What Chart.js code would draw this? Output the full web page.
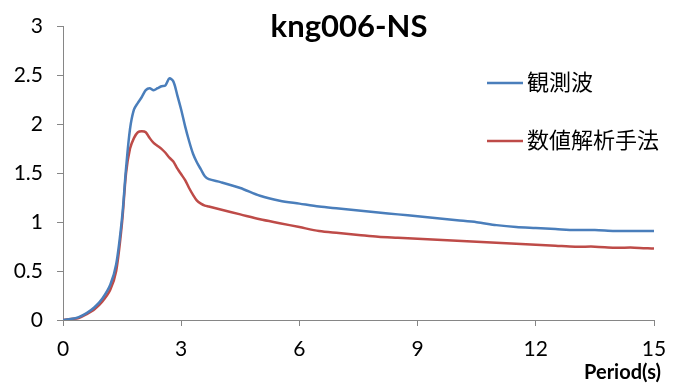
<!DOCTYPE html>
<html>
<head>
<meta charset="utf-8">
<script src="https://cdn.jsdelivr.net/npm/chart.js@4.4.1/dist/chart.umd.min.js"></script>
<style>
html, body { margin: 0; padding: 0; background: #fff; }
</style>
</head>
<body>
<canvas id="chart" width="680" height="385"></canvas>
<script>
// period (s)
var periods = [0, 0.2, 0.4, 0.6, 0.8, 1.0, 1.2, 1.35, 1.5, 1.6, 1.7, 1.8, 1.9, 2.0, 2.1, 2.2, 2.3, 2.4, 2.5, 2.6, 2.7, 2.8, 2.9, 3.0,
    3.1, 3.2, 3.3, 3.4, 3.5, 3.6, 3.7, 4.0, 4.5, 5.0, 5.5, 6.0, 6.5, 7.0, 7.5, 8.0, 8.5, 9.0, 9.5, 10, 10.5, 11, 11.5, 12,
    12.5, 13, 13.5, 14, 14.5, 15];
// 観測波
var observed = [0, 0.01, 0.03, 0.07, 0.13, 0.22, 0.36, 0.57, 1.05, 1.55, 1.95, 2.15, 2.22, 2.28, 2.35, 2.37, 2.35, 2.37, 2.39, 2.40, 2.47, 2.44, 2.30, 2.15,
    1.98, 1.83, 1.70, 1.61, 1.54, 1.47, 1.44, 1.41, 1.35, 1.27, 1.22, 1.19, 1.16, 1.14, 1.12, 1.10, 1.08, 1.06, 1.04, 1.02, 1.00, 0.97, 0.95, 0.94,
    0.93, 0.92, 0.92, 0.91, 0.91, 0.91];
// 数値解析手法
var analysis = [0, 0.01, 0.02, 0.06, 0.11, 0.19, 0.31, 0.50, 1.00, 1.50, 1.75, 1.86, 1.92, 1.93, 1.92, 1.86, 1.81, 1.78, 1.75, 1.71, 1.66, 1.62, 1.55, 1.49,
    1.43, 1.35, 1.28, 1.22, 1.19, 1.17, 1.16, 1.13, 1.08, 1.03, 0.99, 0.95, 0.91, 0.89, 0.87, 0.85, 0.84, 0.83, 0.82, 0.81, 0.80, 0.79, 0.78, 0.77,
    0.76, 0.75, 0.75, 0.74, 0.74, 0.73];

var seriesNames = ['観測波', '数値解析手法'];
var seriesColors = ['#4A7EBB', '#BE4B48'];
var chartTitle = 'kng006-NS';
var xTitle = 'Period(s)';

var fontFamily = "Lato, 'Noto Sans CJK JP', sans-serif";

function toPoints(xs, ys) {
    return xs.map(function (x, i) { return { x: x, y: ys[i] }; });
}

//title, legend and axis title drawn over the plot area
var overlay = {
    id: 'overlay',
    afterDraw: function (chart) {
        var ctx = chart.ctx;
        ctx.save();
        ctx.fillStyle = '#000';
        ctx.textAlign = 'center';
        ctx.textBaseline = 'middle';
        ctx.font = "bold 31px " + fontFamily;
        ctx.fillText(chartTitle, 349, 27);

        ctx.textAlign = 'left';
        ctx.font = "22px " + fontFamily;
        var rows = [83, 141];
        chart.data.datasets.forEach(function (ds, i) {
            ctx.strokeStyle = ds.borderColor;
            ctx.lineWidth = 2.5;
            ctx.beginPath();
            ctx.moveTo(487, rows[i]);
            ctx.lineTo(523, rows[i]);
            ctx.stroke();
            ctx.fillText(ds.label, 527, rows[i]);
        });

        ctx.textAlign = 'right';
        ctx.font = "bold 20px " + fontFamily;
        ctx.fillText(xTitle, 661, 373);
        ctx.restore();
    }
};

new Chart(document.getElementById('chart').getContext('2d'), {
    type: 'line',
    data: {
        datasets: [{
            label: seriesNames[0],
            data: toPoints(periods, observed),
            borderColor: seriesColors[0],
            borderWidth: 2.5,
            pointRadius: 0,
            tension: 0.3,
            fill: false
        }, {
            label: seriesNames[1],
            data: toPoints(periods, analysis),
            borderColor: seriesColors[1],
            borderWidth: 2.5,
            pointRadius: 0,
            tension: 0.3,
            fill: false
        }]
    },
    options: {
        responsive: false,
        animation: false,
        layout: { padding: { top: 17, right: 26, left: 0, bottom: 0 } },
        plugins: {
            legend: { display: false },
            tooltip: { enabled: false }
        },
        scales: {
            x: {
                type: 'linear',
                min: 0,
                max: 15,
                ticks: { stepSize: 3, color: '#000', padding: 11, font: { family: fontFamily, size: 21 } },
                grid: { drawOnChartArea: false, tickLength: 6, color: '#868686' },
                border: { color: '#868686' },
                afterFit: function (scale) { scale.height = 65; }
            },
            y: {
                min: 0,
                max: 3,
                ticks: {
                    stepSize: 0.5, color: '#000', padding: 14, font: { family: fontFamily, size: 21 },
                    callback: function (v) { return String(v); }
                },
                grid: { drawOnChartArea: false, tickLength: 6, color: '#868686' },
                border: { color: '#868686' },
                afterFit: function (scale) { scale.width = 63; }
            }
        }
    },
    plugins: [overlay]
});
</script>
</body>
</html>
